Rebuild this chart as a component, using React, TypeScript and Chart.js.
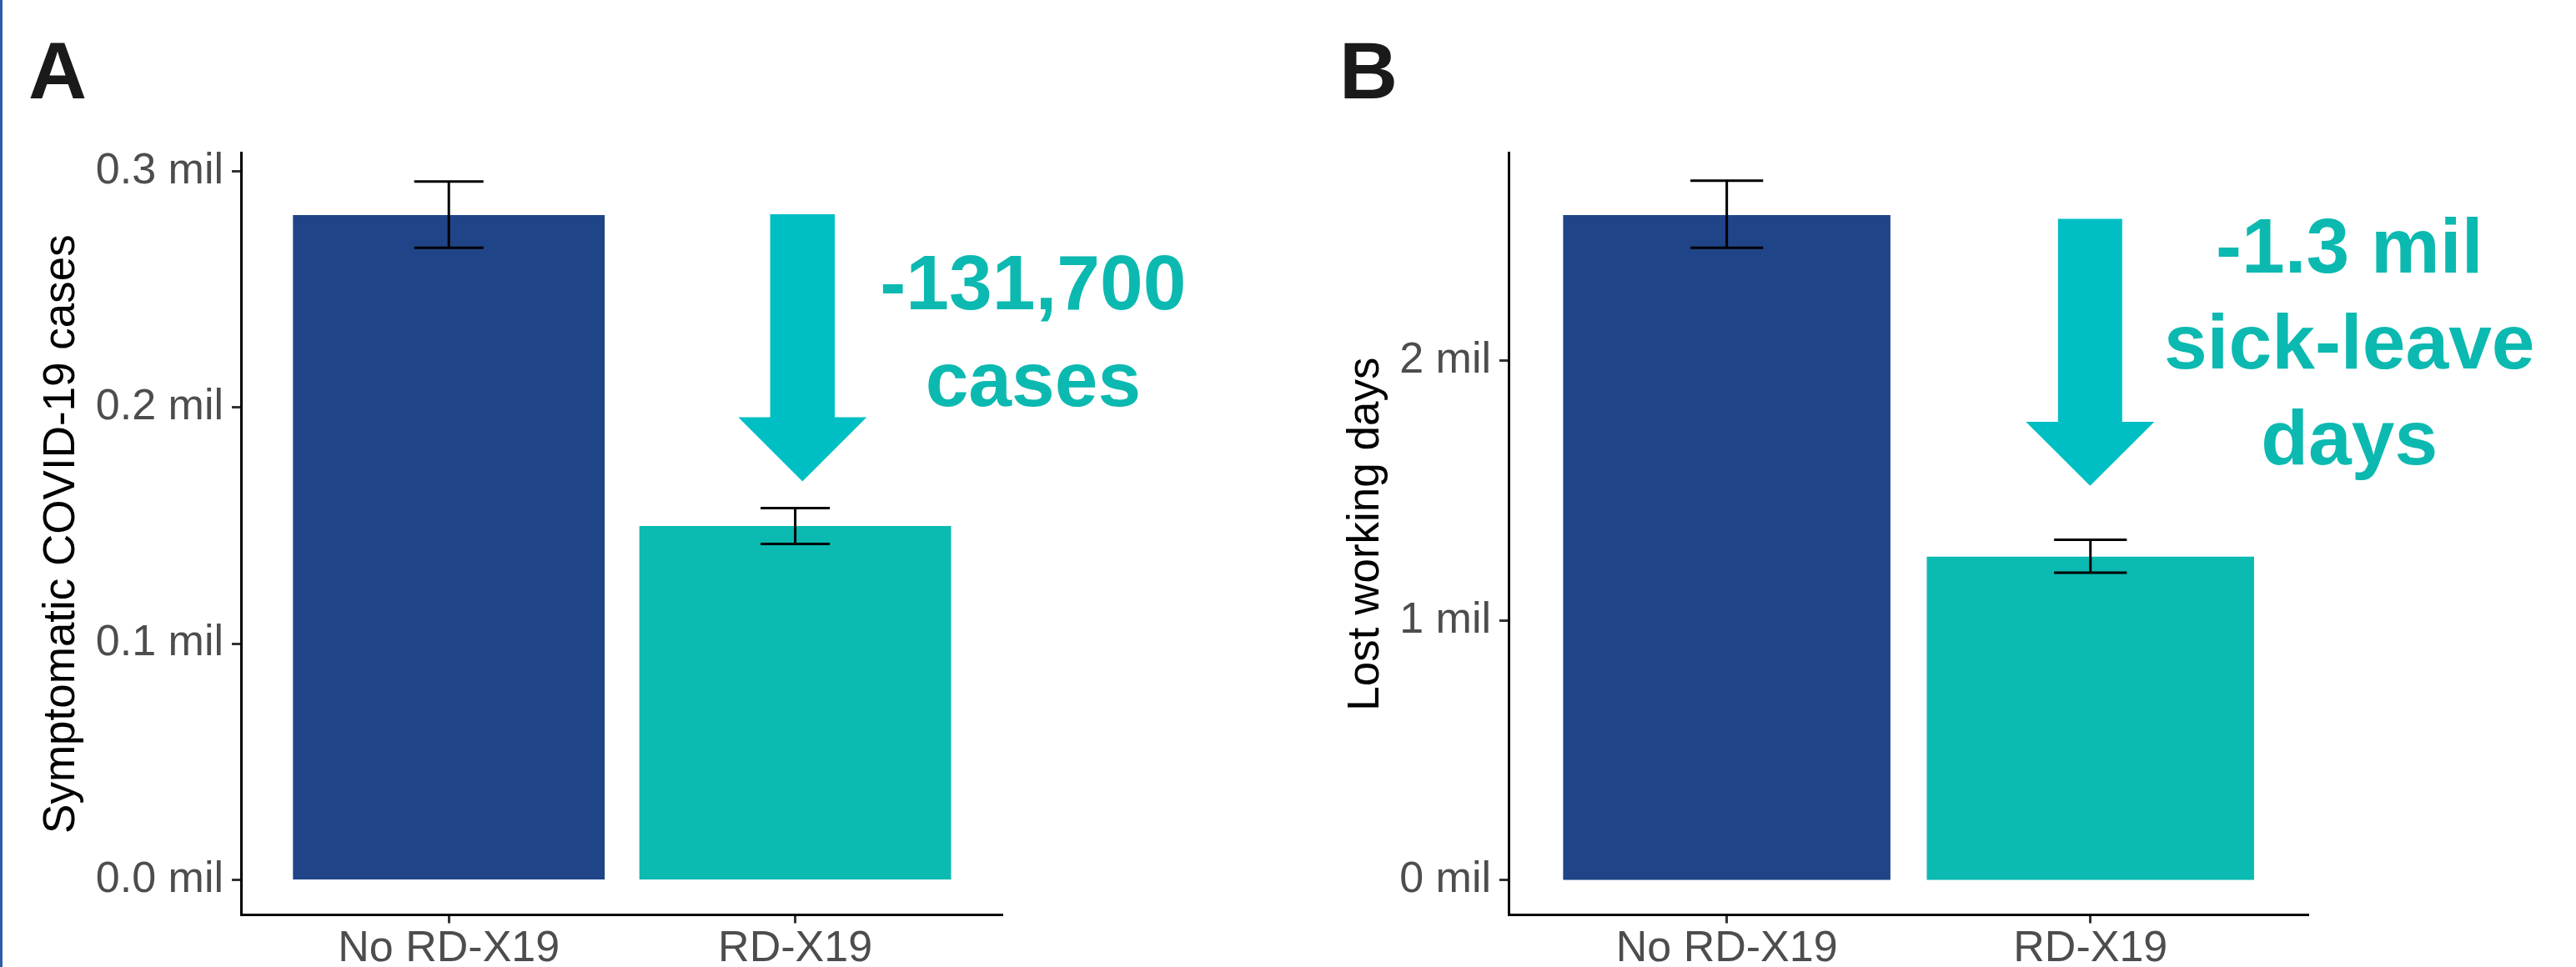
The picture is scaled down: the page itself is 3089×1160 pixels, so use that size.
import React, { useEffect, useRef } from 'react';
import { Chart, registerables } from 'chart.js';

Chart.register(...registerables);

// ---------- data ----------
const categories = ['No RD-X19', 'RD-X19'];
const categoryIndex = [0, 1];

const casesMean = [281500, 149800];
const casesLow = [267600, 142200];
const casesHigh = [295700, 157400];

const daysMean = [2561000, 1246000];
const daysLow = [2435000, 1184000];
const daysHigh = [2693000, 1311000];

const casesTicks = [0, 100000, 200000, 300000];
const daysTicks = [0, 1000000, 2000000];

const casesNote = ['-131,700', 'cases'];
const daysNote = ['-1.3 mil', 'sick-leave', 'days'];

// ---------- styles ----------
const barColors = ['#1F4488', '#0BBAB1'];
const arrowColor = '#00BFC4';
const noteColor = '#0CB9B0';
const FONT = '"Liberation Sans", Arial, sans-serif';
const W = 3089;
const H = 1160;

type PanelCfg = {
  letter: string;
  letterX: number;
  yTitle: string;
  mean: number[];
  low: number[];
  high: number[];
  ticks: number[];
  decimals: number;
  yMin: number;
  yMax: number;
  canvasLeft: number;
  canvasWidth: number;
  yAxisWidth: number;
  rightPad: number;
  titlePad: number;
  arrow: { x: number; yTop: number; yHead: number; yTip: number; shaft: number; head: number };
  note: { lines: string[]; x: number; y: number; gap: number };
};

const panels: PanelCfg[] = [
  {
    letter: 'A',
    letterX: 34,
    yTitle: 'Symptomatic COVID-19 cases',
    mean: casesMean,
    low: casesLow,
    high: casesHigh,
    ticks: casesTicks,
    decimals: 1,
    yMin: -14860,
    yMax: 307700,
    canvasLeft: 0,
    canvasWidth: 1545,
    yAxisWidth: 289,
    rightPad: 1545 - 1202.8,
    titlePad: 42.8,
    arrow: { x: 1.021, yTop: 281800, yHead: 195900, yTip: 168700, shaft: 77.5, head: 154 },
    note: { lines: casesNote, x: 1.687, y: 241440, gap: 116 },
  },
  {
    letter: 'B',
    letterX: 61,
    yTitle: 'Lost working days',
    mean: daysMean,
    low: daysLow,
    high: daysHigh,
    ticks: daysTicks,
    decimals: 0,
    yMin: -133200,
    yMax: 2799400,
    canvasLeft: 1545,
    canvasWidth: 1544,
    yAxisWidth: 264,
    rightPad: 1544 - 1223.4,
    titlePad: 61.8,
    arrow: { x: 0.999, yTop: 2546500, yHead: 1765000, yTip: 1518600, shaft: 77, head: 154 },
    note: { lines: daysNote, x: 1.712, y: 2340200, gap: 115 },
  },
];

function overlayPlugin(cfg: PanelCfg) {
  return {
    id: 'overlay' + cfg.letter,
    afterDatasetsDraw(chart: any) {
      const ctx = chart.ctx as CanvasRenderingContext2D;
      const xs = chart.scales.x;
      const ys = chart.scales.y;
      ctx.save();
      // error bars
      ctx.strokeStyle = '#000000';
      ctx.lineWidth = 3;
      ctx.lineCap = 'butt';
      cfg.mean.forEach((_, i) => {
        const cx = xs.getPixelForValue(categoryIndex[i]);
        const half = xs.getPixelForValue(categoryIndex[i] + 0.1) - cx;
        const yl = ys.getPixelForValue(cfg.low[i]);
        const yh = ys.getPixelForValue(cfg.high[i]);
        ctx.beginPath();
        ctx.moveTo(cx, yh);
        ctx.lineTo(cx, yl);
        ctx.moveTo(cx - half, yh);
        ctx.lineTo(cx + half, yh);
        ctx.moveTo(cx - half, yl);
        ctx.lineTo(cx + half, yl);
        ctx.stroke();
      });
      // arrow
      const a = cfg.arrow;
      const ax = xs.getPixelForValue(a.x);
      const yTop = ys.getPixelForValue(a.yTop);
      const yHead = ys.getPixelForValue(a.yHead);
      const yTip = ys.getPixelForValue(a.yTip);
      ctx.fillStyle = arrowColor;
      ctx.beginPath();
      ctx.moveTo(ax - a.shaft / 2, yTop);
      ctx.lineTo(ax + a.shaft / 2, yTop);
      ctx.lineTo(ax + a.shaft / 2, yHead);
      ctx.lineTo(ax + a.head / 2, yHead);
      ctx.lineTo(ax, yTip);
      ctx.lineTo(ax - a.head / 2, yHead);
      ctx.lineTo(ax - a.shaft / 2, yHead);
      ctx.closePath();
      ctx.fill();
      // note text
      ctx.fillStyle = noteColor;
      ctx.font = 'bold 93px ' + FONT;
      ctx.textAlign = 'center';
      ctx.textBaseline = 'alphabetic';
      const nx = xs.getPixelForValue(cfg.note.x);
      const ny = ys.getPixelForValue(cfg.note.y);
      cfg.note.lines.forEach((line, k) => ctx.fillText(line, nx, ny + k * cfg.note.gap));
      // panel letter
      ctx.fillStyle = '#1A1A1A';
      ctx.font = 'bold 97px ' + FONT;
      ctx.textAlign = 'left';
      ctx.fillText(cfg.letter, cfg.letterX, 118);
      ctx.restore();
    },
  };
}

function Panel({ cfg }: { cfg: PanelCfg }) {
  const ref = useRef<HTMLCanvasElement | null>(null);
  useEffect(() => {
    if (!ref.current) return;
    const chart = new Chart(ref.current, {
      type: 'bar',
      data: {
        datasets: [
          {
            data: categoryIndex.map((x, i) => ({ x, y: cfg.mean[i] })) as any,
            backgroundColor: barColors,
            borderWidth: 0,
            categoryPercentage: 0.9,
            barPercentage: 1.0,
          },
        ],
      },
      options: {
        responsive: false,
        animation: false,
        devicePixelRatio: 1,
        events: [],
        layout: { padding: { left: 0, top: 183.7, right: cfg.rightPad, bottom: 0 } },
        plugins: { legend: { display: false }, tooltip: { enabled: false } },
        scales: {
          x: {
            type: 'linear',
            min: -0.6,
            max: 1.6,
            offset: false,
            bounds: 'ticks',
            afterBuildTicks: (axis: any) => {
              axis.ticks = categoryIndex.map((v) => ({ value: v }));
            },
            afterFit: (scale: any) => {
              scale.height = H - 1097.5;
            },
            ticks: {
              callback: (v: any) => categories[Math.round(Number(v))] ?? '',
              font: { family: FONT, size: 52 },
              color: '#4D4D4D',
              padding: 0,
              maxRotation: 0,
              autoSkip: false,
            },
            grid: {
              display: true,
              offset: false,
              drawOnChartArea: false,
              drawTicks: true,
              tickLength: 10,
              tickWidth: 3,
              tickColor: '#333333',
            },
            border: { display: true, color: '#000000', width: 3 },
          },
          y: {
            type: 'linear',
            min: cfg.yMin,
            max: cfg.yMax,
            afterBuildTicks: (axis: any) => {
              axis.ticks = cfg.ticks.map((v) => ({ value: v }));
            },
            afterFit: (scale: any) => {
              scale.width = cfg.yAxisWidth;
            },
            ticks: {
              callback: (v: any) => (Number(v) / 1e6).toFixed(cfg.decimals) + ' mil',
              font: { family: FONT, size: 52 },
              color: '#4D4D4D',
              padding: 10,
              autoSkip: false,
            },
            grid: {
              display: true,
              drawOnChartArea: false,
              drawTicks: true,
              tickLength: 11,
              tickWidth: 3,
              tickColor: '#333333',
            },
            border: { display: true, color: '#000000', width: 3 },
            title: {
              display: true,
              text: cfg.yTitle,
              color: '#000000',
              font: { family: FONT, size: 53 },
              padding: { top: cfg.titlePad, bottom: 0 },
            },
          },
        },
      },
      plugins: [overlayPlugin(cfg)],
    } as any);
    return () => chart.destroy();
  }, [cfg]);
  return (
    <canvas
      ref={ref}
      width={cfg.canvasWidth}
      height={H}
      style={{ position: 'absolute', left: cfg.canvasLeft, top: 0, width: cfg.canvasWidth, height: H }}
    />
  );
}

export default function App() {
  return (
    <div style={{ position: 'absolute', left: 0, top: 0, width: W, height: H, background: '#FFFFFF', overflow: 'hidden' }}>
      {panels.map((p) => (
        <Panel key={p.letter} cfg={p} />
      ))}
      <div style={{ position: 'absolute', left: 0, top: 0, width: 3, height: H, background: '#2E5CA8' }} />
    </div>
  );
}
